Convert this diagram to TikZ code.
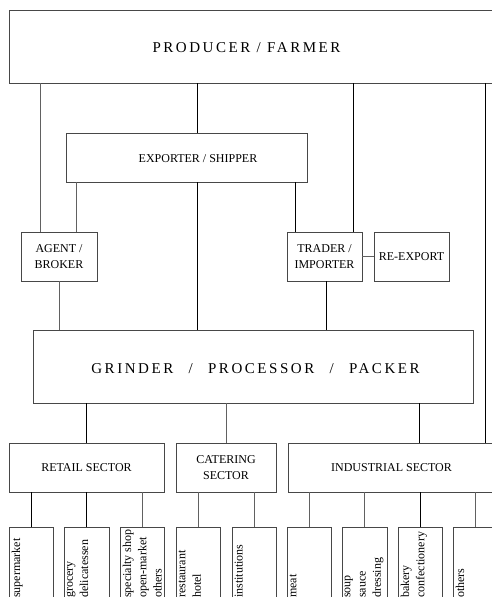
\documentclass[tikz,border=0pt]{standalone}
\usepackage{fontspec}
\setmainfont{Liberation Serif}
\newfontfamily\spaced[LetterSpace=17]{Liberation Serif}
\begin{document}
\begin{tikzpicture}[x=1pt,y=-1pt,
  box/.style={draw=black!72,line width=0.8pt,inner sep=0pt,rectangle,align=center,
    font=\fontsize{12}{16}\selectfont},
  bigtext/.style={inner sep=0pt,font=\fontsize{15}{18}\spaced},
  midtext/.style={inner sep=0pt,font=\fontsize{12}{16}\selectfont},
  leaftext/.style={inner sep=0pt,align=left,rotate=90,anchor=north west,
    font=\fontsize{12}{15.3}\selectfont},
  conn/.style={draw=black,line width=0.95pt},
  connl/.style={draw=black!62,line width=0.85pt}]
\useasboundingbox (0,0) rectangle (492,597);
% top
\node[box,minimum width=491,minimum height=73] (prod) at (254.5,46.5) {};
\node[bigtext] (prodtext) at (246.5,48) {PRODUCER / FARMER};
\node[box,minimum width=241,minimum height=49] (exp) at (186.5,157.5) {};
\node[midtext] (exptext) at (198,158.3) {EXPORTER / SHIPPER};
\node[box,minimum width=76,minimum height=49] (agent) at (59,256.5) {AGENT /\\BROKER};
\node[box,minimum width=75,minimum height=49] (trader) at (324.5,256.5) {TRADER /\\IMPORTER};
\node[box,minimum width=75,minimum height=49] (reexp) at (411.5,256.5) {RE-EXPORT};
\node[box,minimum width=440,minimum height=73] (grind) at (253,366.5) {};
\node[bigtext] (grindtext) at (255.5,368.5) {GRINDER\hspace{9pt} / \hspace{9pt}PROCESSOR\hspace{9pt} / \hspace{9pt}PACKER};
% sectors
\node[box,minimum width=155,minimum height=49] (retail) at (86.5,467.5) {RETAIL SECTOR};
\node[box,minimum width=100,minimum height=49] (cater) at (226,467.5) {CATERING\\SECTOR};
\node[box,minimum width=207,minimum height=49] (indus) at (391.5,467.5) {INDUSTRIAL SECTOR};
% leaves
\foreach \n/\a/\b in {l1/9/53,l2/64/109,l3/120/164,l4/176/220,l5/232/276,l6/287/331,l7/342/387,l8/398/442,l9/453/497}{
  \node[box,minimum width={\b-\a},minimum height=90,anchor=north west] (\n) at (\a,527) {};
}
\node[leaftext] (t1) at ([xshift=2.5pt]l1.north west |- 0,598) {supermarket};
\node[leaftext] (t2) at ([xshift=2.5pt]l2.north west |- 0,598) {grocery\\delicatessen};
\node[leaftext] (t3) at ([xshift=2.5pt]l3.north west |- 0,598) {specialty shop\\open-market\\others};
\node[leaftext] (t4) at ([xshift=2.5pt]l4.north west |- 0,598) {restaurant\\hotel};
\node[leaftext] (t5) at ([xshift=2.5pt]l5.north west |- 0,598) {institutions};
\node[leaftext] (t6) at ([xshift=2.5pt]l6.north west |- 0,598) {meat};
\node[leaftext] (t7) at ([xshift=2.5pt]l7.north west |- 0,598) {soup\\sauce\\dressing};
\node[leaftext] (t8) at ([xshift=2.5pt]l8.north west |- 0,598) {bakery\\confectionery};
\node[leaftext] (t9) at ([xshift=2.5pt]l9.north west |- 0,598) {others};
% connectors from producer
\draw[connl] ([xshift=20pt]agent.north west) -- ([xshift=20pt]agent.north west |- prod.south);
\draw[conn] ([xshift=10.5pt]exp.north) -- ([xshift=10.5pt]exp.north |- prod.south);
\draw[conn] ([xshift=67pt]trader.north west) -- ([xshift=67pt]trader.north west |- prod.south);
\draw[conn] ([xshift=198pt]indus.north west) -- ([xshift=198pt]indus.north west |- prod.south);
% from exporter
\draw[connl] ([xshift=56pt]agent.north west) -- ([xshift=56pt]agent.north west |- exp.south);
\draw[conn] ([xshift=10.5pt]exp.south) -- ([xshift=10.5pt]exp.south |- grind.north);
\draw[conn] ([xshift=9pt]trader.north west) -- ([xshift=9pt]trader.north west |- exp.south);
\draw[connl] (trader.east) -- (reexp.west);
% to grinder
\draw[connl] (agent.south) -- (agent.south |- grind.north);
\draw[conn] ([xshift=1.5pt]trader.south) -- ([xshift=1.5pt]trader.south |- grind.north);
% grinder to sectors
\draw[conn] (retail.north) -- (retail.north |- grind.south);
\draw[connl] (cater.north) -- (cater.north |- grind.south);
\draw[conn] ([xshift=132pt]indus.north west) -- ([xshift=132pt]indus.north west |- grind.south);
% sectors to leaves
\draw[conn] (l1.north) -- (l1.north |- retail.south);
\draw[conn] (l2.north) -- (l2.north |- retail.south);
\draw[connl] (l3.north) -- (l3.north |- retail.south);
\draw[connl] (l4.north) -- (l4.north |- cater.south);
\draw[connl] (l5.north) -- (l5.north |- cater.south);
\draw[connl] (l6.north) -- (l6.north |- indus.south);
\draw[connl] (l7.north) -- (l7.north |- indus.south);
\draw[conn] (l8.north) -- (l8.north |- indus.south);
\draw[connl] (l9.north) -- (l9.north |- indus.south);
\end{tikzpicture}
\end{document}
